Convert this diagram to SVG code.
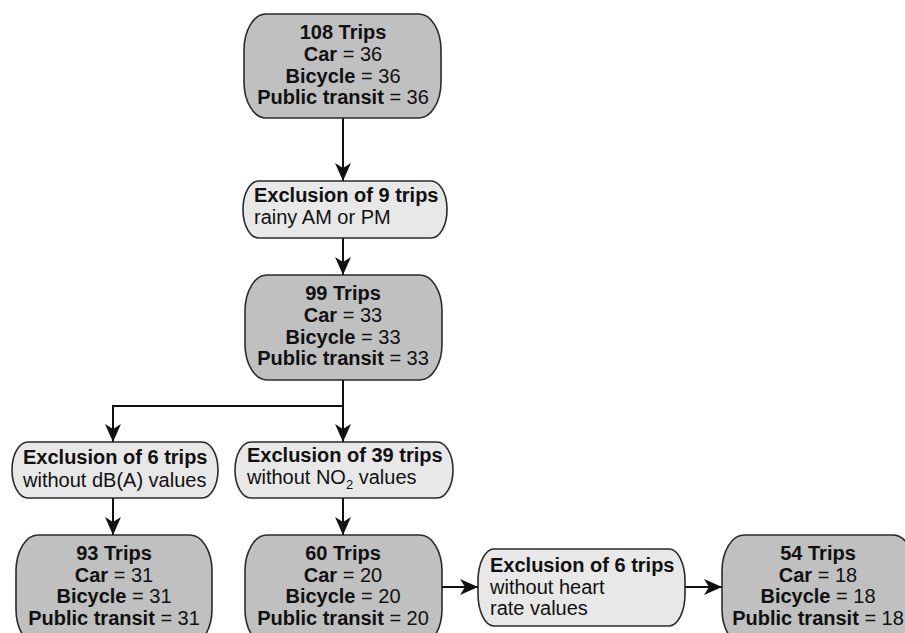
<svg xmlns="http://www.w3.org/2000/svg" width="905" height="633" viewBox="0 0 905 633">
<defs>
<style>
text{font-family:"Liberation Sans",Arial,sans-serif;font-size:20px;fill:#111}
.c{text-anchor:middle}
.b{font-weight:bold}
.main{fill:#c0c0c0;stroke:#2a2a2a;stroke-width:1.6}
.excl{fill:#e8e8e8;stroke:#2a2a2a;stroke-width:1.6}
.ln{fill:none;stroke:#111;stroke-width:2}
</style>
<marker id="ah" viewBox="0 0 18 16" refX="18" refY="8" markerWidth="18" markerHeight="16" markerUnits="userSpaceOnUse" orient="auto">
<path d="M0,0 L18,8 L0,16 L5,8 z" fill="#111"/>
</marker>
</defs>
<rect width="905" height="633" fill="#fff"/>
<g id="connectors">
<path class="ln" d="M343,118 V181" marker-end="url(#ah)"/>
<path class="ln" d="M343,238 V275" marker-end="url(#ah)"/>
<path class="ln" d="M343,380 V406 H113 V442" marker-end="url(#ah)"/>
<path class="ln" d="M343,406 V442" marker-end="url(#ah)"/>
<path class="ln" d="M113,498 V535" marker-end="url(#ah)"/>
<path class="ln" d="M343,498 V535" marker-end="url(#ah)"/>
<path class="ln" d="M442,587 H478" marker-end="url(#ah)"/>
<path class="ln" d="M685,587 H722" marker-end="url(#ah)"/>
</g>
<g id="n108">
<rect class="main" x="244" y="14" width="197" height="104" rx="22" ry="36"/>
<text class="c b" x="343" y="39">108 Trips</text>
<text class="c" x="343" y="61"><tspan class="b">Car</tspan> = 36</text>
<text class="c" x="343" y="83"><tspan class="b">Bicycle</tspan> = 36</text>
<text class="c" x="343" y="104"><tspan class="b">Public transit</tspan> = 36</text>
</g>
<g id="ex9">
<rect class="excl" x="243" y="181" width="204" height="57" rx="16" ry="28"/>
<text class="b" x="254" y="202">Exclusion of 9 trips</text>
<text x="254" y="224">rainy AM or PM</text>
</g>
<g id="n99">
<rect class="main" x="245" y="275" width="197" height="105" rx="22" ry="36"/>
<text class="c b" x="343" y="300">99 Trips</text>
<text class="c" x="343" y="322"><tspan class="b">Car</tspan> = 33</text>
<text class="c" x="343" y="344"><tspan class="b">Bicycle</tspan> = 33</text>
<text class="c" x="343" y="365"><tspan class="b">Public transit</tspan> = 33</text>
</g>
<g id="ex6a">
<rect class="excl" x="12" y="442" width="206" height="56" rx="16" ry="28"/>
<text class="b" x="23" y="464">Exclusion of 6 trips</text>
<text x="23" y="487">without dB(A) values</text>
</g>
<g id="ex39">
<rect class="excl" x="235" y="442" width="218" height="56" rx="16" ry="28"/>
<text class="b" x="247" y="462">Exclusion of 39 trips</text>
<text x="247" y="484">without NO<tspan font-size="13" dy="5">2</tspan><tspan dy="-5"> values</tspan></text>
</g>
<g id="n93">
<rect class="main" x="16" y="535" width="196" height="110" rx="22" ry="36"/>
<text class="c b" x="114" y="560">93 Trips</text>
<text class="c" x="114" y="582"><tspan class="b">Car</tspan> = 31</text>
<text class="c" x="114" y="603"><tspan class="b">Bicycle</tspan> = 31</text>
<text class="c" x="114" y="625"><tspan class="b">Public transit</tspan> = 31</text>
</g>
<g id="n60">
<rect class="main" x="245" y="535" width="197" height="110" rx="22" ry="36"/>
<text class="c b" x="343" y="560">60 Trips</text>
<text class="c" x="343" y="582"><tspan class="b">Car</tspan> = 20</text>
<text class="c" x="343" y="603"><tspan class="b">Bicycle</tspan> = 20</text>
<text class="c" x="343" y="625"><tspan class="b">Public transit</tspan> = 20</text>
</g>
<g id="ex6b">
<rect class="excl" x="478" y="549" width="207" height="77" rx="16" ry="32"/>
<text class="b" x="490" y="572">Exclusion of 6 trips</text>
<text x="490" y="594">without heart</text>
<text x="490" y="615">rate values</text>
</g>
<g id="n54">
<rect class="main" x="722" y="535" width="193" height="110" rx="22" ry="36"/>
<text class="c b" x="818" y="560">54 Trips</text>
<text class="c" x="818" y="582"><tspan class="b">Car</tspan> = 18</text>
<text class="c" x="818" y="603"><tspan class="b">Bicycle</tspan> = 18</text>
<text class="c" x="818" y="625"><tspan class="b">Public transit</tspan> = 18</text>
</g>
</svg>
